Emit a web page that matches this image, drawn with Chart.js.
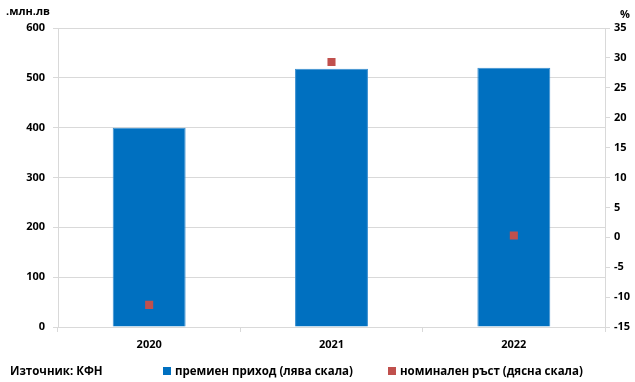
<!DOCTYPE html>
<html>
<head>
<meta charset="utf-8">
<script src="https://cdn.jsdelivr.net/npm/chart.js@4/dist/chart.umd.min.js"></script>
<style>
  body { margin: 0; background: #fff; }
  #wrap { position: relative; width: 635px; height: 382px; font-family: "Open Sans", sans-serif; font-weight: bold; font-size: 11px; color: #000; }
  #chart { position: absolute; left: 0; top: 0; }
  .lbl { position: absolute; white-space: nowrap; }
  .leg { font-size: 11.5px; }
  .sq { display: inline-block; width: 8px; height: 8px; margin-right: 4px; }
</style>
</head>
<body>
<div id="wrap">
  <canvas id="chart" width="635" height="382"></canvas>
  <div class="lbl" style="left:6px; top:3px;">.млн.лв</div>
  <div class="lbl" style="left:620px; top:6px;">%</div>
  <div class="lbl leg" style="left:10px; top:363px;">Източник: КФН</div>
  <div class="lbl leg" style="left:163px; top:363px;"><span class="sq" style="background:#0070C0"></span>премиен приход (лява скала)</div>
  <div class="lbl leg" style="left:388px; top:363px;"><span class="sq" style="background:#C0504D"></span>номинален ръст (дясна скала)</div>
</div>
<script>
// Данни
const години = ['2020', '2021', '2022'];
const премиенПриход = [400, 518, 520];
const номиналенРъст = [-11.3, 29.3, 0.3];

const шрифт = { family: 'Open Sans', weight: 'bold', size: 11 };
const линия = '#d9d9d9';

const ctx = document.getElementById('chart').getContext('2d');
new Chart(ctx, {
    data: {
        labels: години,
        datasets: [
            {
                type: 'line',
                label: 'номинален ръст (дясна скала)',
                data: номиналенРъст,
                yAxisID: 'y2',
                showLine: false,
                pointStyle: 'rect',
                pointRadius: 5.7,
                pointBackgroundColor: '#C0504D',
                pointBorderWidth: 0,
                order: 0
            },
            {
                type: 'bar',
                label: 'премиен приход (лява скала)',
                data: премиенПриход,
                yAxisID: 'y',
                backgroundColor: '#0070C0',
                borderColor: '#3a8fd0',
                borderWidth: 1,
                categoryPercentage: 0.4,
                barPercentage: 1,
                order: 1
            }
        ]
    },
    options: {
        responsive: false,
        animation: false,
        layout: { padding: { top: 28, right: 0, left: 0, bottom: 0 } },
        plugins: { legend: { display: false }, tooltip: { enabled: false } },
        scales: {
            x: {
                grid: { display: true, drawOnChartArea: false, color: линия, tickLength: 5, offset: true },
                border: { color: линия },
                ticks: { color: '#000', font: шрифт, padding: 6 },
                afterFit: s => { s.height = 55; }
            },
            y: {
                position: 'left',
                min: 0, max: 600,
                ticks: { stepSize: 100, color: '#000', font: шрифт, padding: 8 },
                grid: { color: линия, tickLength: 5 },
                border: { color: линия },
                afterFit: s => { s.width = 58; }
            },
            y2: {
                position: 'right',
                min: -15, max: 35,
                ticks: { stepSize: 5, color: '#000', font: шрифт, padding: 4 },
                grid: { drawOnChartArea: false, color: линия, tickLength: 5 },
                border: { color: линия },
                afterFit: s => { s.width = 30; }
            }
        }
    }
});
</script>
</body>
</html>
